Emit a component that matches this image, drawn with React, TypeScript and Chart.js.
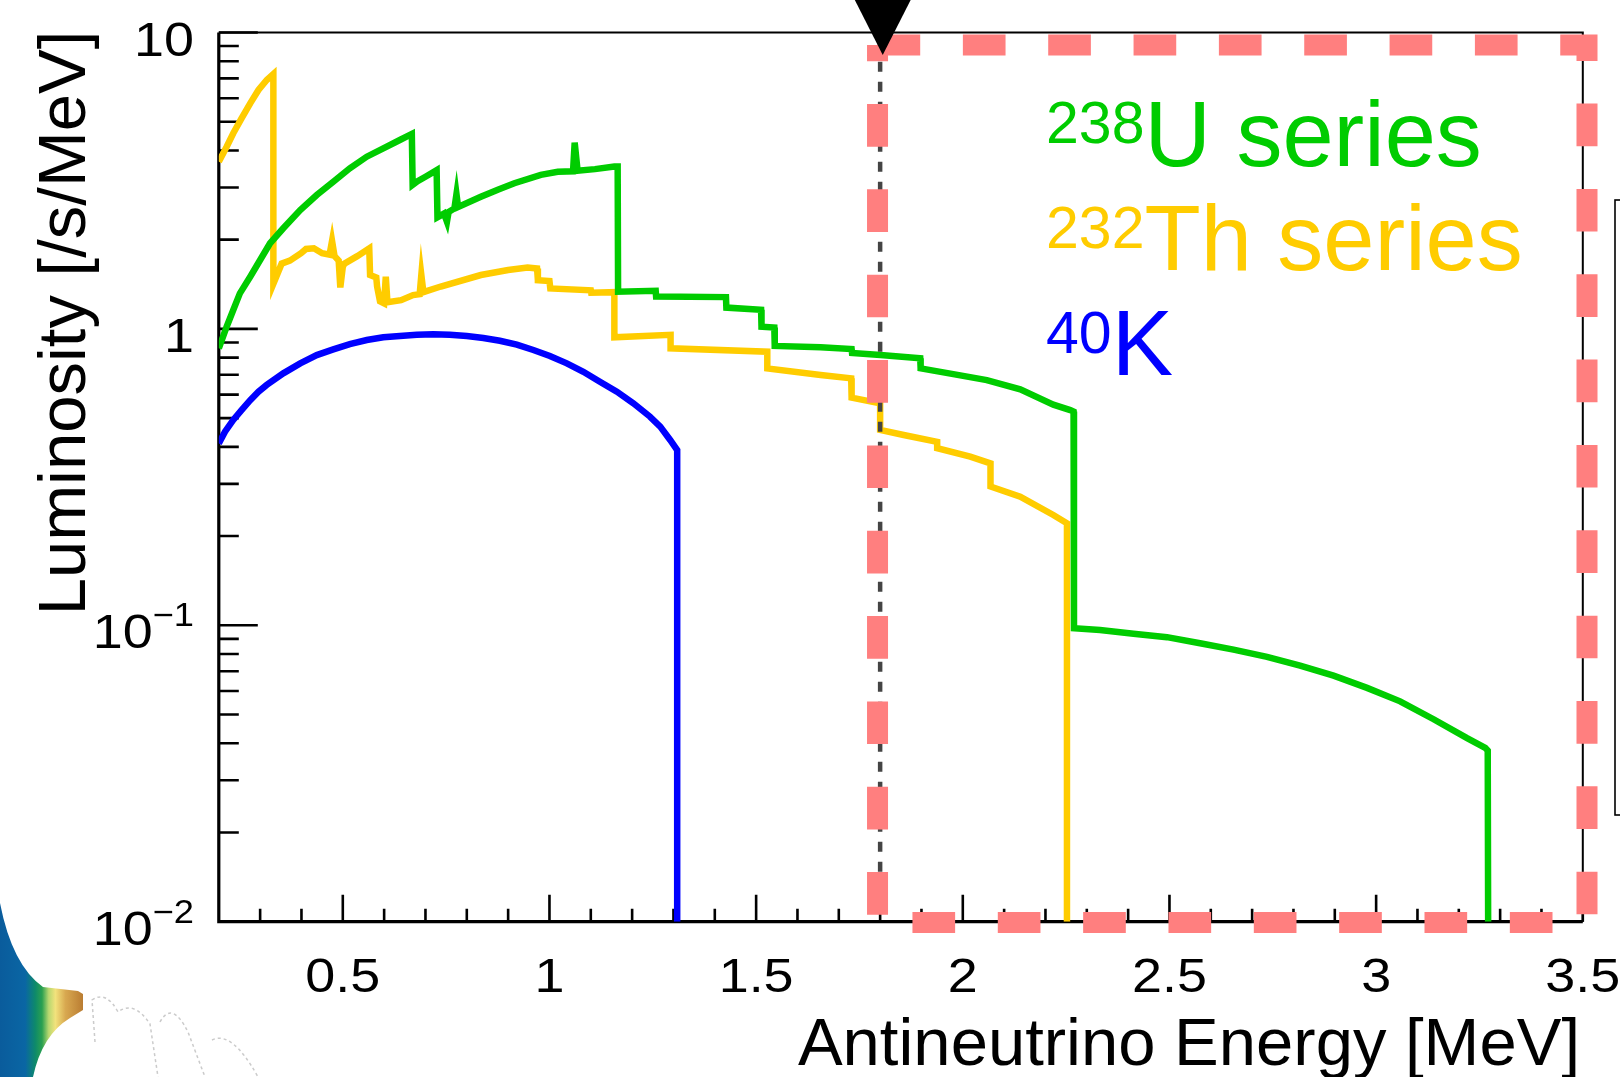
import React, { useEffect, useRef } from 'react';
import { Chart, registerables } from 'chart.js';

Chart.register(...registerables);

const FONT = '"Liberation Sans", Arial, Helvetica, sans-serif';

// ---------- data (energy in MeV, luminosity in /s/MeV) ----------
const uEnergy = [
  0.200, 0.219, 0.235, 0.251, 0.276, 0.300, 0.324, 0.356, 0.397, 0.437,
  0.477, 0.517, 0.558, 0.598, 0.638, 0.667,
  0.669, 0.681, 0.700, 0.727, 0.729, 0.745, 0.752, 0.756, 0.770, 0.775,
  0.779, 0.834, 0.875, 0.915, 0.979, 1.020, 1.057, 1.061, 1.068, 1.110,
  1.157, 1.165, 1.166, 1.257, 1.258, 1.427, 1.428, 1.512, 1.513, 1.544,
  1.545, 1.656, 1.731, 1.732, 1.801, 1.897, 1.898, 1.977, 2.058, 2.139,
  2.219, 2.260, 2.268, 2.269, 2.332, 2.413, 2.494, 2.574, 2.655, 2.736,
  2.816, 2.897, 2.978, 3.058, 3.139, 3.220, 3.264, 3.270, 3.271,
];
const uLum = [
  0.860, 1.017, 1.158, 1.318, 1.500, 1.708, 1.945, 2.185, 2.518, 2.829,
  3.138, 3.482, 3.811, 4.068, 4.338, 4.547,
  3.06, 3.15, 3.26, 3.43, 2.38, 2.45, 2.30, 2.48, 2.55, 2.85,
  2.58, 2.79, 2.95, 3.10, 3.31, 3.39, 3.40, 4.25, 3.42, 3.46,
  3.53, 3.53, 1.335, 1.345, 1.285, 1.28, 1.18, 1.16, 1.017, 1.01,
  0.876, 0.867, 0.855, 0.83, 0.817, 0.796, 0.736, 0.704, 0.672, 0.625,
  0.555, 0.532, 0.526, 0.0977, 0.0964, 0.0937, 0.0912, 0.0870, 0.0828, 0.0783,
  0.0731, 0.0676, 0.0615, 0.0554, 0.0482, 0.0416, 0.0386, 0.0378, 0.01,
];

const thEnergy = [
  0.200, 0.219, 0.235, 0.255, 0.276, 0.296, 0.316, 0.332, 0.332, 0.352,
  0.372, 0.399, 0.411, 0.430, 0.450, 0.468, 0.474, 0.480, 0.490, 0.494,
  0.500, 0.504, 0.535, 0.564, 0.566, 0.581, 0.583, 0.590, 0.600, 0.604,
  0.608, 0.641, 0.670, 0.686, 0.690, 0.695, 0.737, 0.834, 0.900, 0.947,
  0.970, 0.972, 1.000, 1.002, 1.100, 1.101, 1.157, 1.157, 1.293, 1.293,
  1.527, 1.527, 1.656, 1.730, 1.731, 1.800, 1.800, 1.857, 1.938, 1.938,
  2.018, 2.067, 2.067, 2.139, 2.219, 2.252, 2.252,
];
const thLum = [
  3.665, 4.119, 4.570, 5.134, 5.769, 6.397, 6.916, 7.244, 1.42, 1.66,
  1.70, 1.80, 1.86, 1.87, 1.80, 1.78, 1.98, 1.76, 1.70, 1.38,
  1.62, 1.66, 1.76, 1.87, 1.52, 1.49, 1.39, 1.24, 1.22, 1.50,
  1.23, 1.25, 1.30, 1.31, 1.52, 1.33, 1.39, 1.52, 1.58, 1.61,
  1.60, 1.46, 1.45, 1.37, 1.35, 1.325, 1.33, 0.937, 0.955, 0.86,
  0.838, 0.736, 0.699, 0.681, 0.586, 0.561, 0.456, 0.4385, 0.416, 0.396,
  0.3705, 0.352, 0.294, 0.2716, 0.2356, 0.221, 0.01,
];

const kEnergy = [
  0.200, 0.215, 0.235, 0.255, 0.276, 0.296, 0.316, 0.356, 0.397, 0.437,
  0.477, 0.517, 0.558, 0.598, 0.638, 0.679, 0.719, 0.759, 0.800, 0.840,
  0.880, 0.921, 0.961, 1.001, 1.042, 1.082, 1.122, 1.163, 1.203, 1.243,
  1.268, 1.292, 1.309, 1.309,
];
const kLum = [
  0.411, 0.450, 0.493, 0.532, 0.575, 0.614, 0.647, 0.708, 0.765, 0.816,
  0.853, 0.889, 0.917, 0.937, 0.946, 0.956, 0.959, 0.956, 0.946, 0.932,
  0.912, 0.885, 0.849, 0.810, 0.765, 0.717, 0.663, 0.614, 0.561, 0.506,
  0.468, 0.422, 0.390, 0.01,
];

const xMajorTicks = [0.5, 1, 1.5, 2, 2.5, 3, 3.5];
const xTickLabels = ['0.5', '1', '1.5', '2', '2.5', '3', '3.5'];
const xMinorTicks = [
  0.3, 0.4, 0.6, 0.7, 0.8, 0.9, 1.1, 1.2, 1.3, 1.4, 1.6, 1.7, 1.8, 1.9,
  2.1, 2.2, 2.3, 2.4, 2.6, 2.7, 2.8, 2.9, 3.1, 3.2, 3.3, 3.4,
];
const yMajorTicks = [0.01, 0.1, 1, 10];
const yTickBase = ['10', '10', '1', '10'];
const yTickExp = ['\u22122', '\u22121', '', ''];
const yMinorTicks = [
  0.02, 0.03, 0.04, 0.05, 0.06, 0.07, 0.08, 0.09,
  0.2, 0.3, 0.4, 0.5, 0.6, 0.7, 0.8, 0.9,
  2, 3, 4, 5, 6, 7, 8, 9,
];

const seriesMass = ['238', '232', '40'];
const seriesName = ['U series', 'Th series', 'K'];
const thresholdEnergy = 1.8;

const GREEN = '#00cc00';
const YELLOW = '#ffcc00';
const BLUE = '#0000ff';
const seriesColor = [GREEN, YELLOW, BLUE];

const toPoints = (xs: number[], ys: number[]) => xs.map((x, i) => ({ x, y: ys[i] }));

const TICK_STRETCH = 1.1;

// draws text horizontally stretched; align: 'left' | 'center' | 'right'
function stretchedText(
  ctx: CanvasRenderingContext2D,
  text: string,
  x: number,
  y: number,
  align: 'left' | 'center' | 'right',
) {
  const w = ctx.measureText(text).width * TICK_STRETCH;
  let x0 = x;
  if (align === 'center') x0 = x - w / 2;
  if (align === 'right') x0 = x - w;
  ctx.save();
  ctx.translate(x0, y);
  ctx.scale(TICK_STRETCH, 1);
  ctx.textAlign = 'left';
  ctx.fillText(text, 0, 0);
  ctx.restore();
  return w;
}

const decorPlugin = {
  id: 'decor',
  beforeDatasetsDraw(chart: any) {
    const ctx: CanvasRenderingContext2D = chart.ctx;
    const { left, right, top, bottom } = chart.chartArea;
    const xs = chart.scales.x;
    const ys = chart.scales.y;
    ctx.save();

    // bottom-left picture fragment
    const g = ctx.createLinearGradient(0, 0, 84, 0);
    g.addColorStop(0, '#0a5c9c');
    g.addColorStop(0.3, '#0a66a4');
    g.addColorStop(0.42, '#0e8a6a');
    g.addColorStop(0.5, '#2aa050');
    g.addColorStop(0.58, '#b8d870');
    g.addColorStop(0.66, '#f2e27c');
    g.addColorStop(0.78, '#d8a850');
    g.addColorStop(1, '#b87a30');
    ctx.fillStyle = g;
    ctx.beginPath();
    ctx.moveTo(0, 903);
    ctx.quadraticCurveTo(12, 965, 43, 987);
    ctx.lineTo(78, 991);
    ctx.lineTo(83, 994);
    ctx.lineTo(83, 1010);
    ctx.lineTo(70, 1018);
    ctx.quadraticCurveTo(42, 1035, 33, 1077);
    ctx.lineTo(0, 1077);
    ctx.closePath();
    ctx.fill();

    ctx.strokeStyle = 'rgba(140,140,140,0.45)';
    ctx.lineWidth = 1.5;
    ctx.setLineDash([3, 3]);
    ctx.beginPath();
    ctx.moveTo(95, 1042);
    ctx.lineTo(92, 1000);
    ctx.quadraticCurveTo(106, 990, 118, 1012);
    ctx.quadraticCurveTo(134, 1000, 150, 1024);
    ctx.lineTo(158, 1077);
    ctx.moveTo(160, 1022);
    ctx.quadraticCurveTo(172, 1000, 188, 1032);
    ctx.lineTo(205, 1077);
    ctx.moveTo(212, 1040);
    ctx.quadraticCurveTo(232, 1030, 258, 1077);
    ctx.stroke();
    ctx.setLineDash([]);

    // frame
    ctx.strokeStyle = '#000';
    ctx.lineWidth = 2;
    ctx.beginPath();
    ctx.moveTo(left, top);
    ctx.lineTo(right, top);
    ctx.lineTo(right, bottom);
    ctx.stroke();
    ctx.lineWidth = 3.2;
    ctx.beginPath();
    ctx.moveTo(left, top);
    ctx.lineTo(left, bottom);
    ctx.lineTo(right, bottom);
    ctx.stroke();

    // ticks (inside)
    ctx.lineWidth = 2.6;
    ctx.beginPath();
    yMajorTicks.forEach((v) => {
      const py = ys.getPixelForValue(v);
      ctx.moveTo(left, py);
      ctx.lineTo(left + 39, py);
    });
    yMinorTicks.forEach((v) => {
      const py = ys.getPixelForValue(v);
      ctx.moveTo(left, py);
      ctx.lineTo(left + 20, py);
    });
    xMajorTicks.forEach((v) => {
      const px = xs.getPixelForValue(v);
      ctx.moveTo(px, bottom);
      ctx.lineTo(px, bottom - 27);
    });
    xMinorTicks.forEach((v) => {
      const px = xs.getPixelForValue(v);
      ctx.moveTo(px, bottom);
      ctx.lineTo(px, bottom - 13);
    });
    ctx.stroke();

    // tick labels
    ctx.fillStyle = '#000';
    ctx.textBaseline = 'alphabetic';
    ctx.font = `49px ${FONT}`;
    xMajorTicks.forEach((v, i) => {
      stretchedText(ctx, xTickLabels[i], xs.getPixelForValue(v), bottom + 70, 'center');
    });
    yMajorTicks.forEach((v, i) => {
      const py = ys.getPixelForValue(v);
      const base = yTickBase[i];
      const exp = yTickExp[i];
      ctx.font = `49px ${FONT}`;
      const wb = ctx.measureText(base).width * TICK_STRETCH;
      ctx.font = `33px ${FONT}`;
      const we = exp ? ctx.measureText(exp).width * TICK_STRETCH : 0;
      const start = 194 - wb - we;
      ctx.font = `49px ${FONT}`;
      stretchedText(ctx, base, start, py + 23, 'left');
      if (exp) {
        ctx.font = `33px ${FONT}`;
        stretchedText(ctx, exp, start + wb, py + 1, 'left');
      }
    });

    // axis titles
    ctx.font = `67px ${FONT}`;
    ctx.textAlign = 'right';
    ctx.fillText('Antineutrino Energy [MeV]', 1580, 1065);
    ctx.save();
    ctx.translate(85, 323);
    ctx.rotate(-Math.PI / 2);
    ctx.textAlign = 'center';
    ctx.fillText('Luminosity [/s/MeV]', 0, 0);
    ctx.restore();

    ctx.restore();
  },
  afterDatasetsDraw(chart: any) {
    const ctx: CanvasRenderingContext2D = chart.ctx;
    const { bottom } = chart.chartArea;
    const xs = chart.scales.x;
    const xt = xs.getPixelForValue(thresholdEnergy);
    ctx.save();

    // dotted threshold line
    ctx.strokeStyle = '#444444';
    ctx.lineWidth = 4.5;
    ctx.setLineDash([10, 10]);
    ctx.beginPath();
    ctx.moveTo(xt, 61.7);
    ctx.lineTo(xt, bottom);
    ctx.stroke();

    // pink dashed region
    ctx.strokeStyle = '#ff7f7f';
    ctx.lineWidth = 21;
    ctx.lineJoin = 'miter';
    ctx.lineCap = 'butt';
    ctx.setLineDash([42.67, 42.67]);
    const L = xt - 2.6;
    const R = 1587;
    const T = 45;
    const B = 922.5;
    ctx.beginPath();
    ctx.moveTo(L, T);
    ctx.lineTo(R, T);
    ctx.lineTo(R, B);
    ctx.lineTo(L, B);
    ctx.lineTo(L, T);
    ctx.stroke();
    ctx.setLineDash([]);

    // threshold marker triangle
    ctx.fillStyle = '#000';
    ctx.beginPath();
    ctx.moveTo(xt + 2.6 - 33, -10);
    ctx.lineTo(xt + 2.6 + 33, -10);
    ctx.lineTo(xt + 2.6, 55);
    ctx.closePath();
    ctx.fill();

    // partial box at right edge
    ctx.strokeStyle = '#000';
    ctx.lineWidth = 1.6;
    ctx.strokeRect(1615, 200, 40, 615);

    // legend texts
    const baselines = [165.7, 270, 375];
    ctx.textAlign = 'left';
    ctx.textBaseline = 'alphabetic';
    seriesMass.forEach((m, i) => {
      ctx.fillStyle = seriesColor[i];
      ctx.font = `59px ${FONT}`;
      const x0 = 1046;
      ctx.fillText(m, x0, baselines[i] - 22.5);
      const w = ctx.measureText(m).width;
      ctx.font = `92px ${FONT}`;
      ctx.fillText(seriesName[i], x0 + w, baselines[i]);
    });

    ctx.restore();
  },
};

export default function App() {
  const ref = useRef<HTMLCanvasElement>(null);
  useEffect(() => {
    document.body.style.margin = '0';
    const canvas = ref.current;
    if (!canvas) return;
    const mk = (label: string, xs: number[], ys: number[], color: string) => ({
      label,
      data: toPoints(xs, ys),
      borderColor: color,
      backgroundColor: color,
      borderWidth: 6.5,
      pointRadius: 0,
      tension: 0,
      fill: false,
    });
    const chart = new Chart(canvas, {
      type: 'line',
      data: {
        datasets: [
          mk('238U series', uEnergy, uLum, GREEN),
          mk('232Th series', thEnergy, thLum, YELLOW),
          mk('40K', kEnergy, kLum, BLUE),
        ],
      },
      options: {
        responsive: false,
        maintainAspectRatio: false,
        animation: false,
        layout: { padding: { left: 218.8, right: 37.2, top: 32.5, bottom: 155.3 } },
        scales: {
          x: { type: 'linear', min: 0.2, max: 3.5, display: false },
          y: { type: 'logarithmic', min: 0.01, max: 10, display: false },
        },
        plugins: {
          legend: { display: false },
          tooltip: { enabled: false },
          title: { display: false },
        },
        events: [],
      },
      plugins: [decorPlugin],
    } as any);
    return () => chart.destroy();
  }, []);
  return (
    <canvas
      ref={ref}
      width={1620}
      height={1077}
      style={{ display: 'block', width: '1620px', height: '1077px' }}
    />
  );
}
